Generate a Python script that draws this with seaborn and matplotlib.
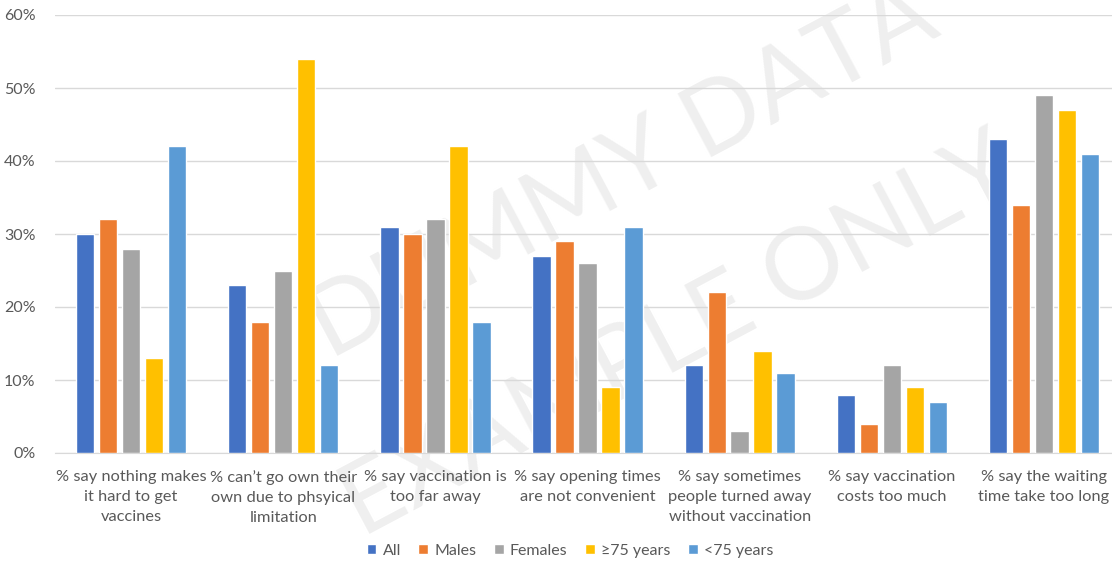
import matplotlib
matplotlib.use("Agg")
import matplotlib.pyplot as plt
import seaborn as sns
import pandas as pd
from matplotlib.ticker import FuncFormatter

categories = [
    "% say nothing makes\nit hard to get\nvaccines",
    "% can\u2019t go own their\nown due to phsyical\nlimitation",
    "% say vaccination is\ntoo far away",
    "% say opening times\nare not convenient",
    "% say sometimes\npeople turned away\nwithout vaccination",
    "% say vaccination\ncosts too much",
    "% say the waiting\ntime take too long",
]
series = ["All", "Males", "Females", "\u226575 years", "<75 years"]
all_vals = [30, 23, 31, 27, 12, 8, 43]
males_vals = [32, 18, 30, 29, 22, 4, 34]
females_vals = [28, 25, 32, 26, 3, 12, 49]
ge75_vals = [13, 54, 42, 9, 14, 9, 47]
lt75_vals = [42, 12, 18, 31, 11, 7, 41]
colors = ["#4472C4", "#ED7D31", "#A5A5A5", "#FFC000", "#5B9BD5"]

rows = []
for s, vals in zip(series, [all_vals, males_vals, females_vals, ge75_vals, lt75_vals]):
    for c, v in zip(categories, vals):
        rows.append({"category": c, "series": s, "value": v})
df = pd.DataFrame(rows)

sns.set_style("white")
plt.rcParams['font.family'] = ['Lato', 'DejaVu Sans']

fig = plt.figure(figsize=(11.12, 5.62), dpi=100)
ax = fig.add_axes([55/1112, 109/562, 1057/1112, 438/562])

sns.barplot(data=df, x="category", y="value", hue="series", order=categories,
            hue_order=series, palette=colors, width=0.755, gap=0.2,
            saturation=1, ax=ax, zorder=3, legend=True)

ax.set_ylim(0, 60)
ax.set_xlim(-0.5, 6.447)
ax.set_yticks(range(0, 61, 10))
ax.yaxis.set_major_formatter(FuncFormatter(lambda v, p: f"{int(v)}%"))
ax.grid(axis="y", color="#d9d9d9", linewidth=1)
ax.set_axisbelow(True)
for sp in ["top", "right", "left"]:
    ax.spines[sp].set_visible(False)
ax.spines["bottom"].set_color("#d9d9d9")
ax.tick_params(axis="both", length=0, colors="#595959", labelsize=11.5)
ax.tick_params(axis="x", pad=12)
ax.tick_params(axis="y", pad=14)
for t in ax.get_xticklabels():
    t.set_linespacing(1.55)
    t.set_fontsize(11.8)
ax.set_xlabel("")
ax.set_ylabel("")

# watermark (behind bars, labels and grid)
ax.text(0.56, 0.695, "DUMMY DATA", fontsize=72, color="#efefef", rotation=28,
        ha="center", va="center", zorder=0.2, transform=fig.transFigure, clip_on=False)
ax.text(0.61, 0.40, "EXAMPLE ONLY", fontsize=72, color="#efefef", rotation=28,
        ha="center", va="center", zorder=0.2, transform=fig.transFigure, clip_on=False)

leg = ax.legend(loc="center", bbox_to_anchor=(570/1112, 11/562), bbox_transform=fig.transFigure,
                ncol=5, frameon=False, fontsize=11.5, handlelength=0.6, handleheight=0.6,
                handletextpad=0.4, columnspacing=1.1)
for t in leg.get_texts():
    t.set_color("#595959")

fig.savefig("out.png", dpi=100)
